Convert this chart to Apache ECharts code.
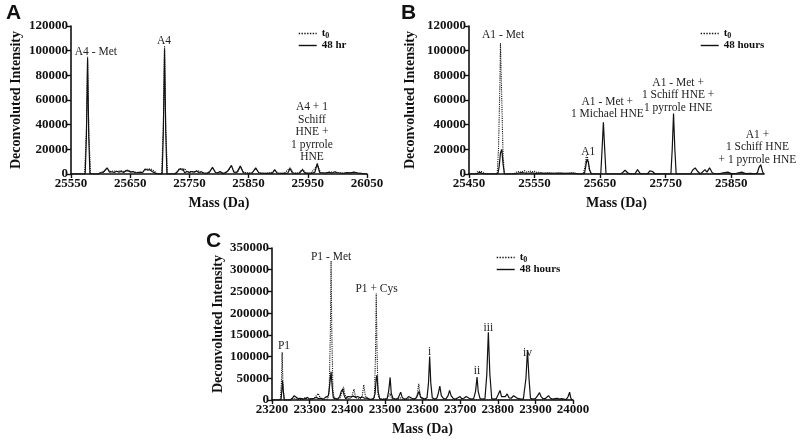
<!DOCTYPE html>
<html>
<head>
<meta charset="utf-8">
<script src="https://cdn.jsdelivr.net/npm/echarts@6/dist/echarts.min.js"></script>
<style>html,body{margin:0;padding:0;background:#fff}#c{width:800px;height:443px}</style>
</head>
<body>
<div id="c"></div>
<script>
// ---------- Panel A ----------
var A_t0 = [[25550,0],[25573,0],[25576,35000],[25578,95000],[25580,35000],[25583,0],[25596,0],[25601,1500],[25606,2000],[25611,4500],[25616,2000],[25622,2500],[25628,2000],[25634,2800],[25640,1800],[25646,3500],[25652,1800],[25658,1500],[25664,1200],[25670,1000],[25676,3500],[25681,4200],[25686,3800],[25690,2500],[25695,500],[25703,0],[25706,38000],[25708,104000],[25710,38000],[25713,0],[25726,0],[25730,2500],[25734,4500],[25738,3000],[25742,4500],[25746,1500],[25752,2000],[25758,1500],[25764,2800],[25770,1500],[25776,800],[25782,1000],[25789,5000],[25795,1000],[25802,1500],[25810,800],[25816,3000],[25821,6500],[25826,1500],[25832,1500],[25836,6000],[25842,1200],[25850,800],[25856,1000],[25862,4500],[25868,800],[25878,600],[25888,800],[25894,3000],[25900,600],[25910,500],[25920,5000],[25926,600],[25935,800],[25941,4000],[25947,600],[25955,600],[25966,7000],[25972,800],[25980,800],[25990,1500],[26000,1200],[26010,600],[26020,800],[26030,1200],[26040,500],[26046,0],[26050,0]];
var A_48 = [[25550,0],[25574,0],[25576,30000],[25578,93000],[25580,30000],[25582,0],[25596,0],[25600,1000],[25604,1200],[25607,2500],[25611,5000],[25615,1500],[25619,1800],[25623,1200],[25627,2200],[25631,1500],[25635,2000],[25639,1200],[25643,2800],[25647,2500],[25651,1500],[25655,2000],[25659,1000],[25663,1200],[25667,1500],[25671,1200],[25675,4000],[25679,3200],[25683,3500],[25687,2000],[25690,3000],[25693,500],[25697,0],[25704,0],[25706,35000],[25708,101000],[25710,35000],[25712,0],[25726,0],[25730,2000],[25733,4000],[25736,2500],[25739,4000],[25742,1000],[25746,2000],[25750,1200],[25754,2000],[25758,1500],[25762,2500],[25766,1200],[25770,1800],[25774,800],[25780,600],[25784,1500],[25789,5500],[25794,1200],[25798,1000],[25802,2000],[25806,300],[25810,800],[25815,2500],[25821,7000],[25825,1500],[25830,1200],[25836,6500],[25841,1000],[25845,800],[25850,600],[25856,800],[25862,5000],[25867,1000],[25872,600],[25880,500],[25886,800],[25890,500],[25894,3500],[25898,800],[25903,600],[25910,500],[25916,600],[25920,4500],[25924,800],[25930,600],[25936,800],[25941,3500],[25945,700],[25950,800],[25957,600],[25962,1500],[25966,8500],[25970,1200],[25975,1000],[25980,800],[25986,1500],[25990,600],[25996,1800],[26000,1000],[26005,800],[26010,600],[26016,1200],[26022,900],[26028,1500],[26034,800],[26040,600],[26046,0],[26050,0]];
var A_xTicks = [25550, 26050, 100];
var A_yTicks = [0, 120000, 20000];
var A_names = ['t0', '48 hr'];
var A_notes = [
  ['A4 - Met', 25592, 98900],
  ['A4', 25707, 107800],
  ['A4 + 1\nSchiff\nHNE +\n1 pyrrole\nHNE', 25957, 34000]
];

// ---------- Panel B ----------
var B_t0 = [[25450,0],[25460,0],[25463,2000],[25466,3000],[25469,2000],[25472,800],[25476,0],[25493,0],[25495,20000],[25497,70000],[25498,106000],[25500,60000],[25502,15000],[25504,0],[25518,0],[25522,1500],[25526,2000],[25530,1500],[25534,2800],[25538,1500],[25542,2500],[25546,1800],[25550,2200],[25554,1200],[25558,1500],[25562,600],[25570,800],[25578,500],[25586,800],[25594,0],[25598,600],[25606,700],[25612,500],[25616,0],[25624,0],[25627,6000],[25629,15000],[25631,13000],[25633,5000],[25636,0],[25900,0]];
var B_48 = [[25450,0],[25462,0],[25466,1500],[25470,500],[25474,0],[25494,0],[25496,6000],[25498,17000],[25500,20000],[25502,8000],[25504,0],[25520,0],[25525,800],[25530,1200],[25538,600],[25546,1000],[25552,500],[25560,800],[25566,500],[25572,700],[25580,600],[25590,800],[25600,600],[25610,800],[25616,0],[25626,0],[25628,6000],[25630,12000],[25632,10000],[25634,3000],[25637,0],[25651,0],[25653,20000],[25655,42000],[25657,20000],[25659,0],[25680,0],[25684,1000],[25688,3000],[25692,1000],[25696,0],[25703,0],[25707,3500],[25711,500],[25716,0],[25722,0],[25726,2500],[25730,2000],[25734,0],[25758,0],[25760,20000],[25762,49000],[25764,20000],[25766,0],[25788,0],[25791,3000],[25795,5000],[25799,2000],[25803,0],[25806,500],[25810,3500],[25813,1500],[25817,5000],[25821,1000],[25826,0],[25834,500],[25840,1200],[25845,1500],[25850,300],[25858,500],[25866,1500],[25872,300],[25880,500],[25886,0],[25890,1000],[25892,5000],[25895,7500],[25898,1500],[25900,0]];
var B_xTicks = [25450, 25900, 100];
var B_yTicks = [0, 120000, 20000];
var B_names = ['t0', '48 hours'];
var B_notes = [
  ['A1 - Met', 25502, 112700],
  ['A1', 25632, 17800],
  ['A1 - Met +\n1 Michael HNE', 25661, 53500],
  ['A1 - Met +\n1 Schiff HNE +\n1 pyrrole HNE', 25769, 64000],
  ['A1 +\n1 Schiff HNE\n+ 1 pyrrole HNE', 25890, 21900]
];

// ---------- Panel C ----------
var C_t0 = [[23200,0],[23222,0],[23225,40000],[23227,110000],[23229,40000],[23232,0],[23250,0],[23256,5000],[23260,8000],[23265,2000],[23272,1000],[23280,2000],[23288,5000],[23294,2000],[23300,3000],[23306,1500],[23312,4000],[23318,10000],[23323,15000],[23328,5000],[23334,2000],[23340,1000],[23348,2000],[23352,20000],[23355,150000],[23357,320000],[23359,150000],[23362,20000],[23366,2000],[23372,1000],[23380,3000],[23385,15000],[23390,30000],[23394,12000],[23400,4000],[23406,2000],[23412,8000],[23418,25000],[23422,6000],[23428,3000],[23434,2000],[23440,10000],[23444,35000],[23448,10000],[23454,3000],[23460,2000],[23466,1000],[23472,5000],[23475,100000],[23477,245000],[23479,120000],[23482,10000],[23488,2000],[23496,3000],[23504,2000],[23510,8000],[23514,15000],[23518,3000],[23526,2000],[23534,1000],[23540,5000],[23546,2000],[23556,1000],[23566,3000],[23572,1000],[23582,3000],[23586,12000],[23590,37000],[23594,10000],[23600,2000],[23610,1000],[23620,0],[24000,0]];
var C_48 = [[23200,0],[23224,0],[23226,20000],[23228,45000],[23230,20000],[23233,0],[23248,0],[23254,4000],[23259,10000],[23264,6000],[23270,3000],[23276,4000],[23282,2000],[23288,3000],[23294,6000],[23300,2000],[23306,3000],[23312,4000],[23318,6000],[23324,3000],[23330,4000],[23336,2000],[23342,6000],[23346,3000],[23350,10000],[23354,40000],[23357,65000],[23360,30000],[23363,5000],[23368,1000],[23374,2000],[23380,8000],[23384,20000],[23388,25000],[23392,10000],[23396,3000],[23402,8000],[23406,10000],[23410,7000],[23416,9000],[23422,6000],[23428,8000],[23434,5000],[23440,7000],[23446,4000],[23452,5000],[23458,2000],[23464,1500],[23470,3000],[23474,15000],[23477,50000],[23479,57000],[23482,20000],[23486,3000],[23492,1000],[23500,2000],[23506,3000],[23510,20000],[23514,52000],[23517,15000],[23522,3000],[23528,2000],[23534,3000],[23538,10000],[23542,18000],[23546,6000],[23552,2000],[23558,3000],[23563,8000],[23568,12000],[23572,4000],[23578,2000],[23584,5000],[23588,14000],[23591,20000],[23595,6000],[23600,2000],[23606,2000],[23612,5000],[23616,40000],[23619,100000],[23622,40000],[23626,5000],[23632,2000],[23638,4000],[23642,15000],[23646,32000],[23650,10000],[23656,3000],[23662,2000],[23668,10000],[23672,22000],[23676,10000],[23682,3000],[23688,2000],[23694,5000],[23700,8000],[23704,3000],[23710,4000],[23716,8000],[23720,10000],[23724,4000],[23730,2000],[23736,3000],[23741,20000],[23745,53000],[23748,20000],[23753,3000],[23760,2000],[23766,3000],[23771,60000],[23775,156000],[23779,60000],[23784,3000],[23790,2000],[23796,3000],[23801,12000],[23806,22000],[23810,8000],[23815,4000],[23820,8000],[23825,14000],[23830,5000],[23836,4000],[23842,10000],[23846,13000],[23850,5000],[23856,3000],[23862,2000],[23868,2000],[23872,5000],[23875,50000],[23879,115000],[23883,50000],[23887,4000],[23894,2000],[23900,3000],[23906,10000],[23911,17000],[23915,8000],[23920,3000],[23926,3000],[23930,6000],[23935,10000],[23940,4000],[23946,2000],[23952,3000],[23958,4000],[23964,2000],[23970,3000],[23976,2000],[23982,1000],[23987,8000],[23991,18000],[23994,5000],[23997,0],[24000,0]];
var C_xTicks = [23200, 24000, 100];
var C_yTicks = [0, 350000, 50000];
var C_names = ['t0', '48 hours'];
var C_notes = [
  ['P1', 23232, 124000],
  ['P1 - Met', 23357, 329000],
  ['P1 + Cys', 23478, 255600],
  ['i', 23619, 110500],
  ['ii', 23745, 66800],
  ['iii', 23775, 165800],
  ['iv', 23879, 108000]
];

var yTitle = 'Deconvoluted Intensity';
var xTitle = 'Mass (Da)';
var panelLetters = ['A', 'B', 'C'];

// ---------- build ----------
var SERIF = '"Liberation Serif", "Times New Roman", serif';
var INK = '#111';
var grids = [
  {left: 71, top: 26, width: 296, height: 148},
  {left: 469, top: 26, width: 295, height: 148},
  {left: 272, top: 248, width: 301, height: 152}
];
var xT = [A_xTicks, B_xTicks, C_xTicks];
var yT = [A_yTicks, B_yTicks, C_yTicks];
var yGaps = [48, 52, 47];
var xGaps = [22, 22, 22];

function plain(v) { return String(v); }
function axisCommon() {
  return {
    axisLine: {show: true, onZero: false, lineStyle: {color: INK, width: 1.6}},
    axisTick: {show: true, inside: false, length: 4, lineStyle: {color: INK, width: 1.4}},
    axisLabel: {color: INK, fontFamily: SERIF, fontWeight: 'bold', fontSize: 13, margin: 3, formatter: plain},
    splitLine: {show: false},
    nameTextStyle: {color: INK, fontFamily: SERIF, fontWeight: 'bold', fontSize: 14}
  };
}
var xAxes = [], yAxes = [];
for (var i = 0; i < 3; i++) {
  var xa = axisCommon();
  Object.assign(xa, {type: 'value', gridIndex: i, min: xT[i][0], max: xT[i][1], interval: xT[i][2],
    name: xTitle, nameLocation: 'middle', nameGap: xGaps[i]});
  xa.axisLabel.showMaxLabel = (i !== 1);
  xAxes.push(xa);
  var ya = axisCommon();
  Object.assign(ya, {type: 'value', gridIndex: i, min: yT[i][0], max: yT[i][1], interval: yT[i][2],
    name: yTitle, nameLocation: 'middle', nameGap: yGaps[i], nameRotate: 90});
  yAxes.push(ya);
}

function notesToMark(notes) {
  return {
    symbol: 'circle', symbolSize: 1, silent: true,
    itemStyle: {color: 'rgba(0,0,0,0)'},
    label: {show: true, position: 'inside', formatter: '{b}', color: '#222',
      fontFamily: SERIF, fontSize: 11.5, lineHeight: 12.5, align: 'center'},
    data: notes.map(function (n) { return {name: n[0], coord: [n[1], n[2]]}; })
  };
}

var dataSets = [[A_t0, A_48, A_names, A_notes], [B_t0, B_48, B_names, B_notes], [C_t0, C_48, C_names, C_notes]];
var series = [];
dataSets.forEach(function (d, i) {
  series.push({type: 'line', name: d[2][0], xAxisIndex: i, yAxisIndex: i, data: d[0],
    symbol: 'none', showSymbol: false, silent: true, z: 2,
    lineStyle: {color: INK, width: 1.1, type: 'dotted'}, itemStyle: {color: INK}});
  series.push({type: 'line', name: d[2][1], xAxisIndex: i, yAxisIndex: i, data: d[1],
    symbol: 'none', showSymbol: false, silent: true, z: 3,
    lineStyle: {color: INK, width: 1.2, type: 'solid'}, itemStyle: {color: INK},
    markPoint: notesToMark(d[3])});
});

var legendPos = [{left: 298, top: 27}, {left: 700, top: 27}, {left: 496, top: 251}];
var legends = dataSets.map(function (d, i) {
  return {
    data: d[2], orient: 'vertical', left: legendPos[i].left, top: legendPos[i].top,
    itemWidth: 18, itemHeight: 8, itemGap: 0, padding: 0, selectedMode: false,
    itemStyle: {opacity: 0, borderWidth: 0},
    lineStyle: {width: 1.4},
    formatter: function (name) { return name === 't0' ? '{a|t}{b|0}' : '{a|' + name + '}'; },
    textStyle: {color: INK, fontFamily: SERIF, fontWeight: 'bold', fontSize: 11,
      rich: {a: {fontFamily: SERIF, fontWeight: 'bold', fontSize: 11, color: INK, lineHeight: 12},
             b: {fontFamily: SERIF, fontWeight: 'bold', fontSize: 8, color: INK, lineHeight: 12, padding: [5, 0, 0, 0]}}}
  };
});

var titles = [
  {text: panelLetters[0], left: 6, top: 3},
  {text: panelLetters[1], left: 401, top: 3},
  {text: panelLetters[2], left: 206, top: 231}
].map(function (t) {
  t.padding = 0;
  t.textStyle = {fontFamily: '"Liberation Sans", Arial, sans-serif', fontWeight: 'bold', fontSize: 21, color: INK};
  return t;
});

var chart = echarts.init(document.getElementById('c'), null, {renderer: 'canvas'});
chart.setOption({
  animation: false,
  backgroundColor: '#fff',
  title: titles,
  legend: legends,
  grid: grids,
  xAxis: xAxes,
  yAxis: yAxes,
  series: series
});
</script>
</body>
</html>
